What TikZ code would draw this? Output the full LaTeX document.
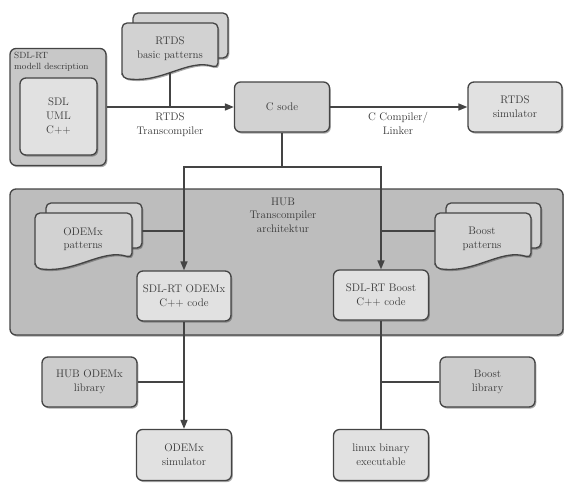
\documentclass[tikz,border=0pt]{standalone}
\usetikzlibrary{arrows.meta,shadows}
\definecolor{ink}{HTML}{383838}
\definecolor{edge}{HTML}{444444}
\definecolor{cOuter}{HTML}{C8C8C8}
\definecolor{cLight}{HTML}{E1E1E1}
\definecolor{cMid}{HTML}{D2D2D2}
\definecolor{cHub}{HTML}{BDBDBD}
\definecolor{cLib}{HTML}{CDCDCD}
\pgfdeclarelayer{bg}
\pgfdeclarelayer{ln}
\pgfsetlayers{bg,ln,main}
\newcommand{\docstack}[5]{%
  \filldraw[docline, fill=#5] ({#1+11},{#2-10}) rectangle ({#3+10},{#4-20});
  \filldraw[docline, fill=#5] (#1,#4) -- (#1,#2) -- (#3,#2) -- (#3,{#4-10})
     .. controls ({#3-30},{#4-20}) and ({#1+40},{#4+6}) .. (#1,#4) -- cycle;
}
\tikzset{
  shad/.style={drop shadow={shadow xshift=1.3pt, shadow yshift=-1.6pt, opacity=0.45, fill=black!75}},
  box/.style={draw=edge, line width=1.3pt, rounded corners=6pt, align=center, text=ink,
    font=\fontsize{11}{14}\selectfont, inner sep=2pt, shad},
  docline/.style={draw=edge, line width=1.3pt, rounded corners=5pt, shad},
  conn/.style={draw=edge, line width=1.6pt},
  arr/.style={conn, -{Triangle[length=9pt,width=7pt]}},
  lbl/.style={text=ink, align=center, font=\fontsize{11}{13.5}\selectfont, inner sep=0pt}
}
\begin{document}
\begin{tikzpicture}[x=1pt,y=-1pt]
\useasboundingbox (0,0) rectangle (564,482);
% HUB container
\begin{pgfonlayer}{bg}
\node[box, fill=cHub, minimum width=553pt, minimum height=146pt] (hub) at (286.5,262) {};
\end{pgfonlayer}
\node[lbl] (hublbl) at (283,215) {HUB\\Transcompiler\\architektur};
% top row
\node[box, fill=cOuter, minimum width=96pt, minimum height=117pt] (sdl) at (58,107) {};
\node[box, fill=cLight, minimum width=77pt, minimum height=77pt] (sdlin) at (58.5,116.5) {SDL\\UML\\C++};
\node[lbl, anchor=north west, align=left, font=\fontsize{9}{10.5}\selectfont] (sdllbl) at (14,52) {SDL-RT\\modell description};
\docstack{122}{23}{218}{78}{cMid}
\node[lbl] (rtdsdoc) at (170,48.5) {RTDS\\basic patterns};
\node[box, fill=cMid, minimum width=95pt, minimum height=50pt] (csode) at (282,107) {C sode};
\node[box, fill=cLight, minimum width=94pt, minimum height=50pt] (rtdssim) at (515,107) {RTDS\\simulator};
% hub content
\docstack{35}{213}{132}{268}{cMid}
\node[lbl] (odemxdoc) at (83,239) {ODEMx\\patterns};
\docstack{435}{213}{531}{268}{cMid}
\node[lbl] (boostdoc) at (482,239) {Boost\\patterns};
\node[box, fill=cLight, minimum width=94pt, minimum height=50pt] (odemx) at (184,296) {SDL-RT ODEMx\\C++ code};
\node[box, fill=cLight, minimum width=95pt, minimum height=50pt] (boost) at (381,295) {SDL-RT Boost\\C++ code};
% bottom
\node[box, fill=cLib, minimum width=95pt, minimum height=50pt] (hublib) at (89.5,382) {HUB ODEMx\\library};
\node[box, fill=cLib, minimum width=95pt, minimum height=50pt] (boostlib) at (487.5,382) {Boost\\library};
\node[box, fill=cLight, minimum width=95pt, minimum height=51pt] (odemxsim) at (184,455) {ODEMx\\simulator};
\node[box, fill=cLight, minimum width=95pt, minimum height=51pt] (linux) at (381,455) {linux binary\\executable};
% labels
\node[lbl] (rtdslbl) at (170,124.5) {RTDS\\Transcompiler};
\node[lbl] (cclbl) at (398,123.5) {C Compiler/\\Linker};
% connectors
\coordinate (j1) at (170,107);
\coordinate (split) at (282,167);
\coordinate (jo) at (184,231);
\coordinate (jb) at (381,231);
\coordinate (jl) at (184,382);
\coordinate (jbl) at (381,382);
\begin{pgfonlayer}{ln}
\draw[conn] (rtdsdoc) -- (j1);
\draw[arr] (sdl) -- (csode);
\draw[arr] (csode) -- (rtdssim);
\draw[conn] (csode) -- (split);
\draw[arr] (split) -| (odemx);
\draw[arr] (split) -| (boost);
\draw[conn] (odemxdoc.center |- jo) -- (jo);
\draw[conn] (boostdoc.center |- jb) -- (jb);
\draw[arr] (odemx) -- (odemxsim);
\draw[conn] (hublib) -- (jl);
\draw[conn] (boost) -- (linux);
\draw[conn] (boostlib) -- (jbl);
\end{pgfonlayer}
\end{tikzpicture}
\end{document}
